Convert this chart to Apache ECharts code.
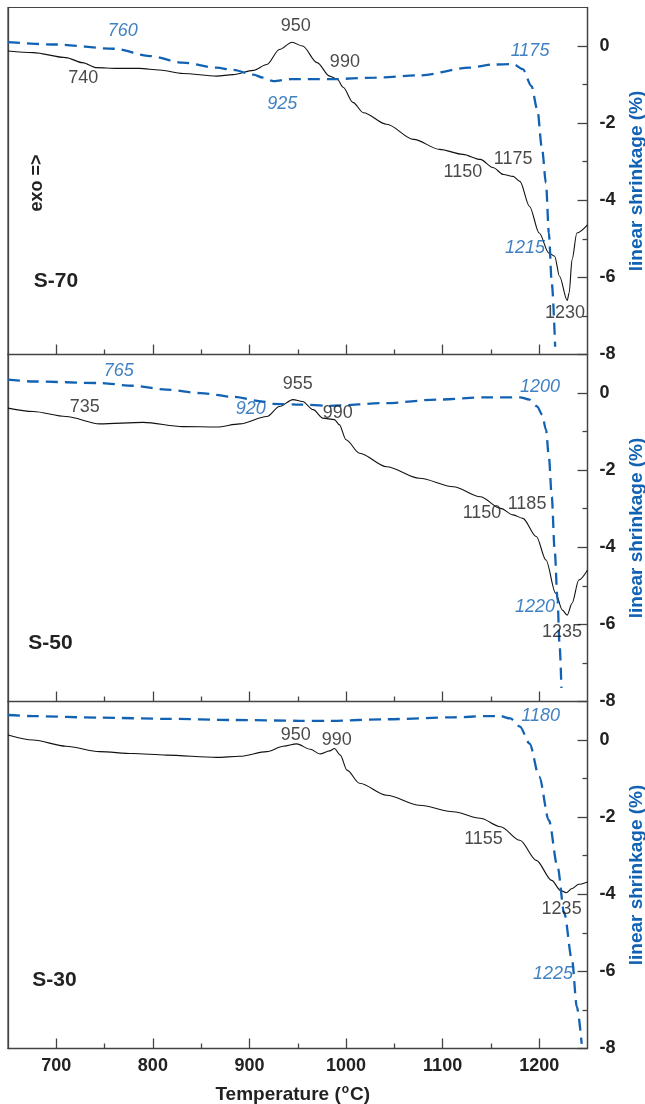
<!DOCTYPE html>
<html><head><meta charset="utf-8">
<script src="https://cdn.jsdelivr.net/npm/echarts@6/dist/echarts.min.js"></script>
<style>html,body{margin:0;padding:0;background:#fff}#c{width:645px;height:1104px}</style>
</head><body><div id="c"></div>
<script>
// ---- data ----
const xMajorTicks = [700, 800, 900, 1000, 1100, 1200];
const xMinorTicks = [750, 850, 950, 1050, 1150];
const yMajorTicks = [-8, -6, -4, -2, 0];
const yMinorTicks = [-7, -5, -3, -1];
const samples = ['S-70', 'S-50', 'S-30'];

const dta70 = [[650,-0.13],[676,-0.17],[710,-0.30],[727,-0.43],[742,-0.56],[762,-0.58],[786,-0.58],[807,-0.62],[831,-0.71],[866,-0.78],[883,-0.74],[904,-0.63],[918,-0.48],[931,-0.09],[944,0.10],[955,0.0],[970,-0.43],[983,-0.78],[991,-0.86],[997,-1.07],[1007,-1.46],[1018,-1.73],[1042,-2.03],[1070,-2.42],[1097,-2.68],[1121,-2.81],[1139,-2.94],[1152,-3.15],[1163,-3.33],[1173,-3.38],[1180,-3.51],[1190,-4.16],[1200,-4.85],[1210,-5.37],[1216,-5.45],[1221,-5.97],[1229,-6.60],[1231,-6.40],[1234,-5.54],[1239,-4.85],[1250,-4.64]];
const shrink70 = [[650,0.10],[700,0.04],[760,-0.07],[797,-0.26],[831,-0.43],[866,-0.56],[883,-0.62],[904,-0.74],[914,-0.82],[925,-0.91],[942,-0.86],[983,-0.86],[1030,-0.82],[1076,-0.76],[1128,-0.56],[1152,-0.48],[1173,-0.47],[1183,-0.60],[1192,-1.04],[1198,-1.64],[1203,-2.68],[1207,-3.55],[1210,-4.85],[1213,-6.15],[1216.5,-7.8]];

const dta50 = [[650,-0.39],[676,-0.48],[710,-0.61],[745,-0.80],[790,-0.76],[831,-0.87],[866,-0.88],[890,-0.80],[918,-0.61],[931,-0.35],[945,-0.17],[955,-0.22],[966,-0.43],[976,-0.65],[988,-0.69],[993,-0.82],[1000,-1.21],[1014,-1.56],[1042,-1.91],[1076,-2.21],[1111,-2.43],[1139,-2.69],[1160,-2.99],[1173,-3.16],[1183,-3.25],[1197,-3.72],[1207,-4.33],[1217,-5.19],[1224,-5.63],[1229,-5.76],[1234,-5.45],[1241,-4.85],[1250,-4.59]];
const shrink50 = [[650,0.35],[676,0.30],[745,0.26],[779,0.19],[814,0.09],[849,0.0],[883,-0.10],[914,-0.22],[924,-0.28],[952,-0.30],[983,-0.33],[1042,-0.26],[1094,-0.17],[1146,-0.11],[1180,-0.11],[1190,-0.17],[1198,-0.35],[1203,-0.56],[1207,-0.95],[1210,-1.65],[1213,-2.69],[1216,-4.07],[1219,-5.37],[1221,-6.49],[1223,-7.65]];

const dta30 = [[650,0.13],[676,0.0],[710,-0.16],[745,-0.30],[779,-0.35],[814,-0.39],[866,-0.45],[890,-0.42],[918,-0.30],[935,-0.16],[949,-0.10],[963,-0.24],[973,-0.36],[983,-0.28],[988,-0.22],[994,-0.39],[1001,-0.78],[1014,-1.12],[1042,-1.43],[1076,-1.69],[1111,-1.86],[1139,-2.03],[1160,-2.25],[1180,-2.60],[1197,-3.12],[1213,-3.64],[1222,-3.90],[1228,-3.96],[1234,-3.85],[1241,-3.74],[1250,-3.68]];
const shrink30 = [[650,0.65],[676,0.62],[745,0.58],[814,0.55],[883,0.52],[952,0.50],[983,0.50],[1042,0.54],[1111,0.59],[1146,0.62],[1160,0.62],[1170,0.56],[1180,0.35],[1190,-0.09],[1200,-0.95],[1210,-2.08],[1219,-3.29],[1226,-4.50],[1234,-5.71],[1239,-6.93],[1244,-7.88]];

// annotations: [temperature, value, text]
const notesDta70 = [[727.8,-0.84,'740'],[948,0.52,'950'],[998.8,-0.41,'990'],[1121,-3.27,'1150'],[1173,-2.94,'1175'],[1226.8,-6.92,'1230']];
const notesShr70 = [[768.8,0.39,'760'],[934,-1.49,'925'],[1190.5,-0.13,'1175'],[1185.3,-5.23,'1215']];
const notesDta50 = [[729.4,-0.36,'735'],[950.1,0.24,'955'],[991.5,-0.51,'990'],[1140.8,-3.10,'1150'],[1187.4,-2.87,'1185'],[1223.7,-6.19,'1235']];
const notesShr50 = [[764.7,0.56,'765'],[901.4,-0.42,'920'],[1200.8,0.16,'1200'],[1195.7,-5.54,'1220']];
const notesDta30 = [[948,0.12,'950'],[990.4,-0.01,'990'],[1142.3,-2.57,'1155'],[1223.2,-4.38,'1235']];
const notesShr30 = [[1201.4,0.62,'1180'],[1214.3,-6.06,'1225']];

// ---- chart ----
const FONT = "'Liberation Sans', Arial, Helvetica, sans-serif";
const BLUE = '#1262b3';
const AXIS = '#444';
const panels = [
  {dta: dta70, shr: shrink70, nd: notesDta70, ns: notesShr70},
  {dta: dta50, shr: shrink50, nd: notesDta50, ns: notesShr50},
  {dta: dta30, shr: shrink30, nd: notesDta30, ns: notesShr30}
];
const gridTops = [7.5, 354.5, 701.5];
const gridH = 347;

const grid = [], xAxis = [], yAxis = [], series = [];
panels.forEach((p, i) => {
  grid.push({left: 8, right: 57.5, top: gridTops[i], height: gridH, containLabel: false, outerBoundsMode: 'none',
    show: true, borderColor: AXIS, borderWidth: 1.2, backgroundColor: 'transparent'});
  xAxis.push({
    gridIndex: i, type: 'value', min: 650, max: 1250, position: 'bottom',
    axisLine: {show: true, onZero: false, lineStyle: {color: AXIS, width: 1.3}},
    axisTick: {show: true, inside: true, length: 10, customValues: xMajorTicks, lineStyle: {color: AXIS, width: 1.3}},
    axisLabel: {show: i === 2, customValues: xMajorTicks, formatter: v => String(v), margin: 9, fontSize: 18, fontWeight: 'bold', color: '#222', fontFamily: FONT},
    splitLine: {show: false},
    name: i === 2 ? '{a|Temperature (}{s|o}{a|C)}' : '',
    nameLocation: 'middle', nameGap: 35,
    nameTextStyle: {padding: [0, 10, 0, 0], rich: {
      a: {fontSize: 19, fontWeight: 'bold', color: '#222', fontFamily: FONT, lineHeight: 22},
      s: {fontSize: 12, fontWeight: 'bold', color: '#222', fontFamily: FONT, verticalAlign: 'top', lineHeight: 12, padding: [0, 1, 0, 1]}
    }}
  });
  xAxis.push({
    gridIndex: i, type: 'value', min: 650, max: 1250, position: 'bottom',
    axisLine: {show: false, onZero: false},
    axisTick: {show: true, inside: true, length: 5, customValues: xMinorTicks, lineStyle: {color: AXIS, width: 1.3}},
    axisLabel: {show: false}, splitLine: {show: false}
  });
  yAxis.push({
    gridIndex: i, type: 'value', position: 'left', min: -8, max: 1,
    axisLine: {show: true, onZero: false, lineStyle: {color: AXIS, width: 1.3}},
    axisTick: {show: false}, axisLabel: {show: false}, splitLine: {show: false}
  });
  yAxis.push({
    gridIndex: i, type: 'value', position: 'right', min: -8, max: 1,
    axisLine: {show: true, onZero: false, lineStyle: {color: AXIS, width: 1.3}},
    axisTick: {show: true, inside: true, length: 10, customValues: yMajorTicks, lineStyle: {color: AXIS, width: 1.3}},
    axisLabel: {show: true, customValues: yMajorTicks, margin: 12, fontSize: 18, fontWeight: 'bold', color: '#222', fontFamily: FONT},
    splitLine: {show: false},
    name: 'linear shrinkage (%)', nameLocation: 'middle', nameGap: 40,
    nameTextStyle: {color: BLUE, fontWeight: 'bold', fontSize: 19, fontFamily: FONT}
  });
  yAxis.push({
    gridIndex: i, type: 'value', position: 'right', min: -8, max: 1,
    axisLine: {show: false, onZero: false},
    axisTick: {show: true, inside: true, length: 5, customValues: yMinorTicks, lineStyle: {color: AXIS, width: 1.3}},
    axisLabel: {show: false}, splitLine: {show: false}
  });
  series.push({
    type: 'line', name: samples[i] + ' DTA', xAxisIndex: i * 2, yAxisIndex: i * 3,
    data: p.dta, showSymbol: false, smooth: 0.3, smoothMonotone: 'x',
    lineStyle: {color: '#111', width: 1.1}, z: 3
  });
  series.push({
    type: 'line', name: samples[i] + ' shrinkage', xAxisIndex: i * 2, yAxisIndex: i * 3 + 1,
    data: p.shr, showSymbol: false, smooth: 0.3, smoothMonotone: 'x',
    lineStyle: {color: BLUE, width: 2.3, type: [12, 7]}, z: 4
  });
  series.push({
    type: 'scatter', xAxisIndex: i * 2, yAxisIndex: i * 3, data: p.nd, symbolSize: 1,
    itemStyle: {color: 'rgba(0,0,0,0)'}, silent: true, z: 5,
    label: {show: true, position: 'inside', formatter: q => q.data[2], fontSize: 18, color: '#1a1a1a', fontFamily: FONT}
  });
  series.push({
    type: 'scatter', xAxisIndex: i * 2, yAxisIndex: i * 3 + 1, data: p.ns, symbolSize: 1,
    itemStyle: {color: 'rgba(0,0,0,0)'}, silent: true, z: 5,
    label: {show: true, position: 'inside', formatter: q => q.data[2], fontSize: 18, fontStyle: 'italic', color: BLUE, fontFamily: FONT}
  });
});

const labelPos = [[56, 281], [50.5, 643.5], [54.5, 980]];
const graphic = samples.map((s, i) => ({
  type: 'text', x: labelPos[i][0], y: labelPos[i][1], z: 10,
  style: {text: s, font: 'bold 21px ' + FONT, fill: '#222', align: 'center', verticalAlign: 'middle'}
}));
graphic.push({
  type: 'text', x: 37.5, y: 183, rotation: Math.PI / 2, z: 10,
  style: {text: 'exo =>', font: 'bold 18px ' + FONT, fill: '#222', align: 'center', verticalAlign: 'middle'}
});

const chart = echarts.init(document.getElementById('c'), null, {renderer: 'canvas'});
chart.setOption({animation: false, backgroundColor: '#fff', grid, xAxis, yAxis, series, graphic});
</script></body></html>
